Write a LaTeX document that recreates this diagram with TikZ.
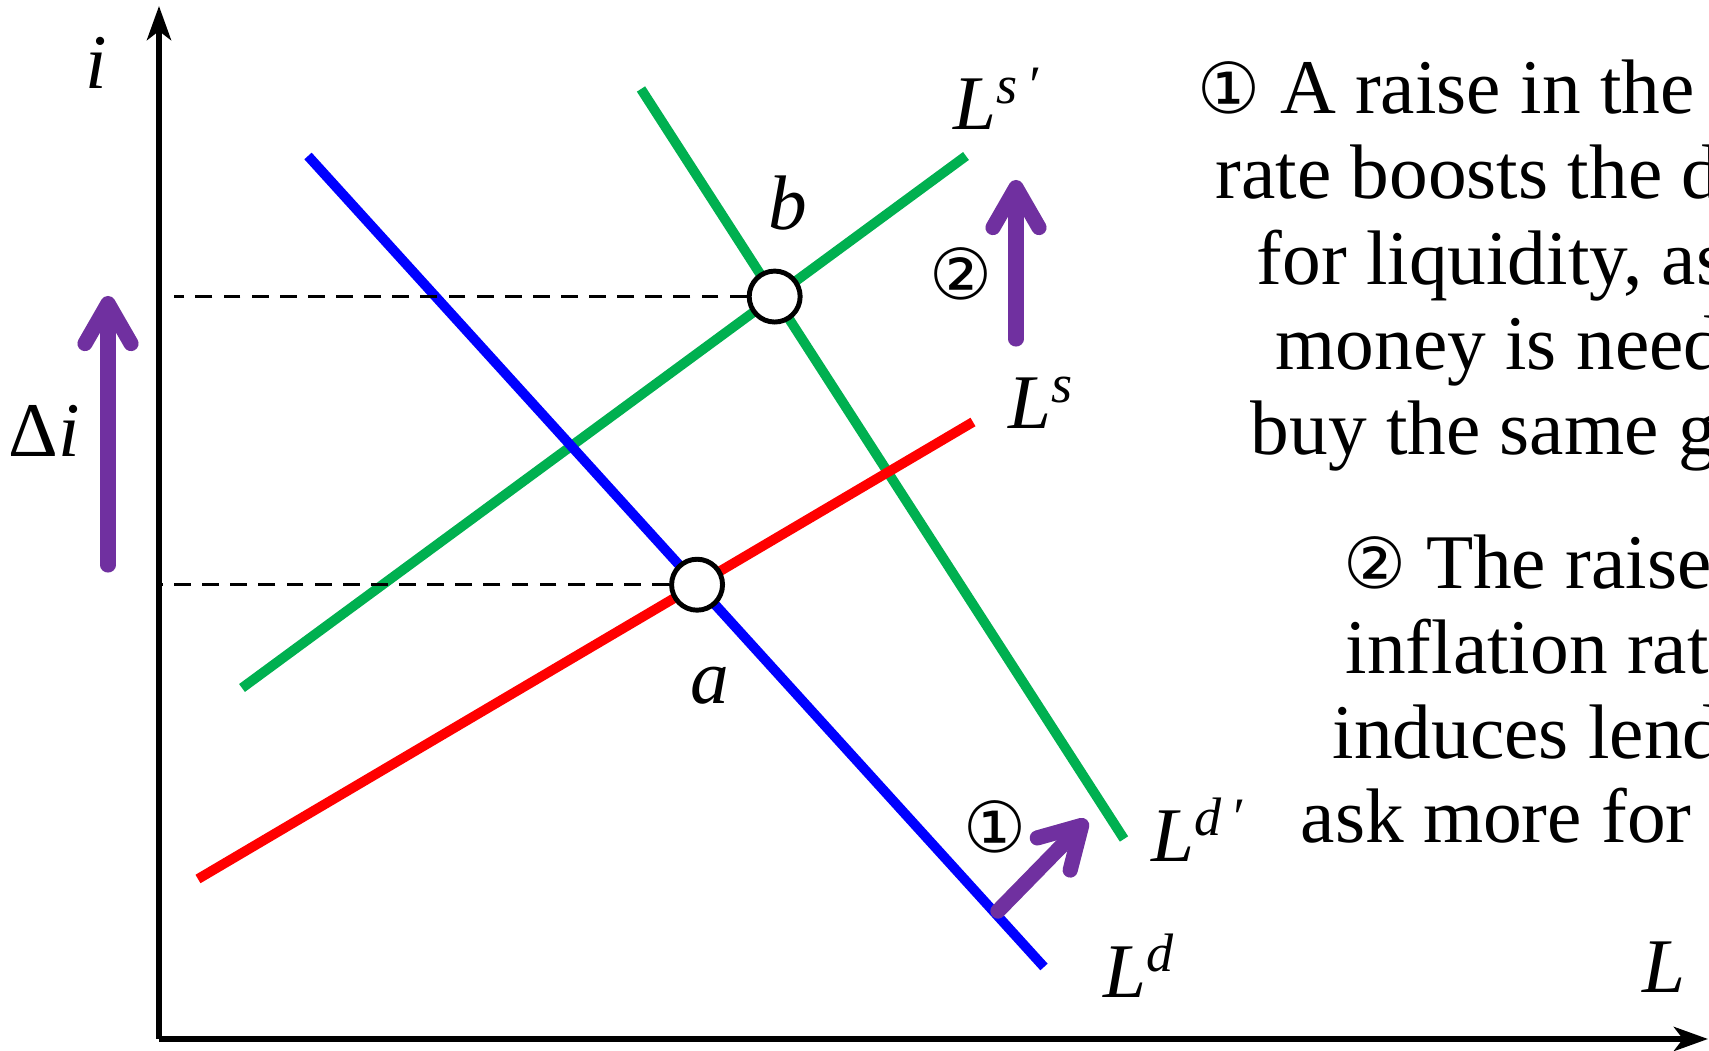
\documentclass[tikz,border=0pt]{standalone}
\usepackage{fontspec}
\setmainfont{Liberation Serif}
\newfontfamily\circfont{DejaVu Sans}
\usetikzlibrary{arrows.meta,positioning,intersections}
\definecolor{demandblue}{RGB}{0,0,255}
\definecolor{supplyred}{RGB}{255,0,0}
\definecolor{shiftgreen}{RGB}{0,176,80}
\definecolor{shiftpurple}{RGB}{112,48,160}
\tikzset{
  axis/.style={line width=1.7pt,-{Stealth[length=3.4mm,width=2.4mm,inset=0.9mm]}},
  curve/.style={line width=2.8pt},
  guide/.style={line width=1pt,dash pattern=on 4.8pt off 3.2pt},
  eqpoint/.style={circle,draw=black,fill=white,line width=1.4pt,minimum size=14.5pt,inner sep=0pt},
  shiftarrow/.style={line width=4.3pt,draw=shiftpurple,line cap=round,-{Straight Barb[length=4mm,width=4.6mm,round]}},
  shiftshadow/.style={shiftarrow,draw=black!40,opacity=0.35,shift={(4,4)}},
  curvelabel/.style={font=\fontsize{22}{24}\selectfont\itshape,inner sep=0pt},
  axislabel/.style={font=\fontsize{22}{24}\selectfont,inner sep=0pt},
  notetext/.style={font=\fontsize{22}{24}\selectfont,inner sep=0pt,anchor=base west},
  steplabel/.style={font=\circfont\fontsize{20}{22}\selectfont,inner sep=0pt}
}
\newcommand{\circone}{{\circfont\fontsize{20}{24}\selectfont ①}}
\newcommand{\circtwo}{{\circfont\fontsize{20}{24}\selectfont ②}}

\begin{document}
\begin{tikzpicture}[x=0.1mm,y=-0.1mm]
  \useasboundingbox (0,0) rectangle (1709,1051);
  \clip (0,0) rectangle (1709,1051);

  % axes
  \coordinate (origin) at (159,1039);
  \coordinate (itop) at (159,6);
  \coordinate (lend) at (1708,1039);
  \draw[axis] (origin) -- (itop);
  \draw[axis] (origin) -- (lend);
  \node[axislabel] (ilabel) at (96,63) {\textit{i}};
  \node[curvelabel] (llabel) at (1664,967) {L};

  % curves
  \coordinate (ld-top) at (308,156);  \coordinate (ld-bot) at (1044,967);
  \coordinate (ls-bot) at (198,879);  \coordinate (ls-top) at (973,422);
  \coordinate (lsp-bot) at (242,688); \coordinate (lsp-top) at (966,156);
  \coordinate (ldp-top) at (641,89);  \coordinate (ldp-bot) at (1124,839);
  \draw[curve,shiftgreen,name path=lsp] (lsp-bot) -- (lsp-top);
  \draw[curve,shiftgreen,name path=ldp] (ldp-top) -- (ldp-bot);
  \draw[curve,supplyred,name path=ls] (ls-bot) -- (ls-top);
  \draw[curve,demandblue,name path=ld] (ld-top) -- (ld-bot);

  \node[curvelabel] (ldlabel) at (1139,966) {L\textsuperscript{d}};
  \node[curvelabel] (ldplabel) at (1198,830) {L\textsuperscript{d\,′}};
  \node[curvelabel] (lslabel) at (1041,403) {L\textsuperscript{s}};
  \node[curvelabel] (lsplabel) at (997,99) {L\textsuperscript{s\,′}};

  % equilibria
  \path[name intersections={of=ld and ls,by=apt}];
  \path[name intersections={of=ldp and lsp,by=bpt}];
  \coordinate (bguide) at ([xshift=1.5mm]origin |- bpt);
  \draw[guide] (apt) -- (apt -| origin);
  \draw[guide] (bpt) -- (bguide);
  \node[eqpoint] (a) at (apt) {};
  \node[eqpoint] (b) at (bpt) {};
  \node[curvelabel,below=5.4mm of a,xshift=1.3mm] (alabel) {a};
  \node[curvelabel,above=3.8mm of b,xshift=1.3mm] (blabel) {b};

  % shifts
  \coordinate (di-tail) at (108,565);  \coordinate (di-tip) at (108,296);
  \coordinate (up-tail) at (1016,339); \coordinate (up-tip) at (1016,180);
  \coordinate (dg-tail) at (998,911);  \coordinate (dg-tip) at (1087,820);
  \foreach \tail/\tip in {di-tail/di-tip,up-tail/up-tip,dg-tail/dg-tip}{
    \draw[shiftshadow] (\tail) -- (\tip);
    \draw[shiftarrow] (\tail) -- (\tip);
  }
  \node[axislabel] (dilabel) at (44,431) {Δ\textit{i}};
  \node[steplabel] (steptwo) at (961,274) {②};
  \node[steplabel] (stepone) at (995,827) {①};

  % notes
  \node[notetext] (n1a) at (1197,114) {\circone\ A raise in the i};
  \node[notetext] (n1b) at (1215,199) {rate boosts the d};
  \node[notetext] (n1c) at (1256,285) {for liquidity, as};
  \node[notetext] (n1d) at (1275,370) {money is need};
  \node[notetext] (n1e) at (1250,455) {buy the same g};
  \node[notetext] (n2a) at (1343,589) {\circtwo\ The raise};
  \node[notetext] (n2b) at (1345,674) {inflation rat};
  \node[notetext] (n2c) at (1332,759) {induces lend};
  \node[notetext] (n2d) at (1300,843) {ask more for};
\end{tikzpicture}
\end{document}
